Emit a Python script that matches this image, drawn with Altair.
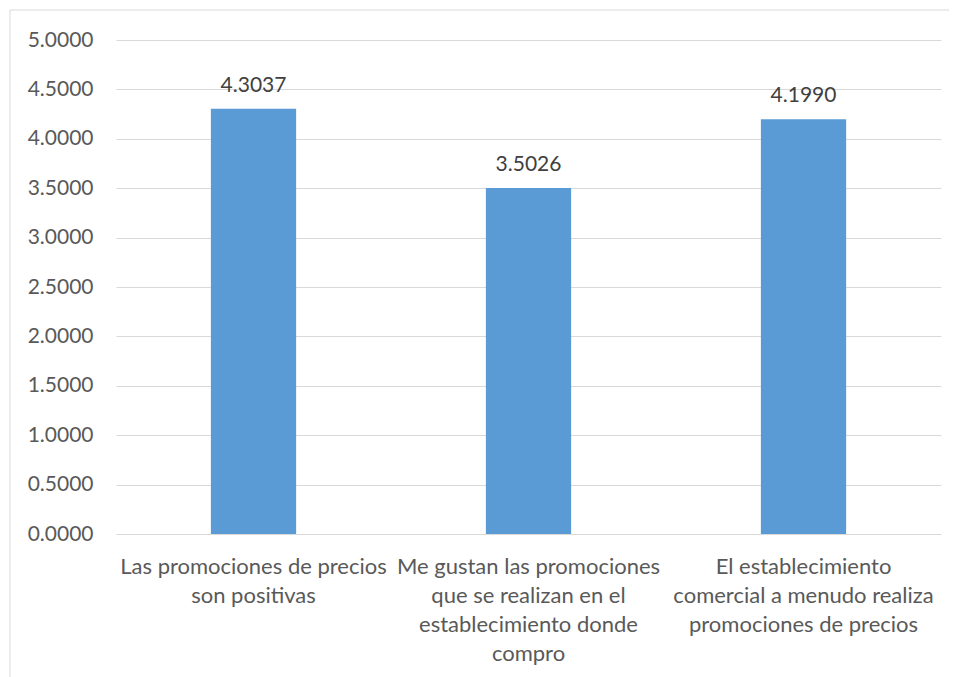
import altair as alt
import pandas as pd

categories = [
    "Las promociones de precios son positivas",
    "Me gustan las promociones que se realizan en el establecimiento donde compro",
    "El establecimiento comercial a menudo realiza promociones de precios",
]
label_lines = [
    ["Las promociones de precios", "son positivas"],
    ["Me gustan las promociones", "que se realizan en el", "establecimiento donde", "compro"],
    ["El establecimiento", "comercial a menudo realiza", "promociones de precios"],
]
values = [4.3037, 3.5026, 4.1990]
y_ticks = [0, 0.5, 1, 1.5, 2, 2.5, 3, 3.5, 4, 4.5, 5]

df = pd.DataFrame({"cat": categories, "val": values})

def js_str(s):
    return "'" + s.replace("'", "\\'") + "'"

expr = "''"
for c, lines in reversed(list(zip(categories, label_lines))):
    arr = "[" + ",".join(js_str(l) for l in lines) + "]"
    expr = f"datum.label == {js_str(c)} ? {arr} : ({expr})"

FONT = "Lato"
W, H = 825, 494

x = alt.X(
    "cat:N",
    sort=None,
    scale=alt.Scale(paddingInner=0.69, paddingOuter=0.345),
    axis=alt.Axis(
        title=None, labelAngle=0, labelExpr=expr, labelFontSize=22,
        labelLineHeight=29, labelColor="#595959", labelFont=FONT,
        ticks=False, domain=False, labelPadding=32, labelLimit=400,
        labelBaseline="middle",
    ),
)
y = alt.Y(
    "val:Q",
    scale=alt.Scale(domain=[0, 5], nice=False),
    axis=alt.Axis(
        title=None, values=y_ticks, format=".4f", labelFontSize=21,
        labelColor="#595959", labelFont=FONT, ticks=False, domain=False,
        gridColor="#d9d9d9", gridWidth=1, labelPadding=23,
    ),
)

bars = alt.Chart(df).mark_bar(color="#5B9BD5").encode(x=x, y=y)
text = alt.Chart(df).mark_text(
    baseline="alphabetic", dy=-17, fontSize=21, font=FONT, color="#404040"
).encode(x=alt.X("cat:N", sort=None), y="val:Q", text=alt.Text("val:Q", format=".4f"))

frame = alt.Chart(pd.DataFrame({"a": [0]})).mark_rect(
    fill=None, stroke="#d9d9d9", strokeWidth=1, clip=False
).encode(
    x=alt.value(-106), x2=alt.value(W + 40), y=alt.value(-30), y2=alt.value(H + 200)
)

chart = (
    alt.layer(frame, bars, text)
    .properties(
        width=W, height=H,
        padding={"left": 108, "top": 32, "right": 8, "bottom": 150},
        autosize=alt.AutoSizeParams(type="none"),
        background="white",
    )
    .configure_view(stroke=None)
)

chart.save("out.html", embed_options={"renderer": "svg", "actions": False})
